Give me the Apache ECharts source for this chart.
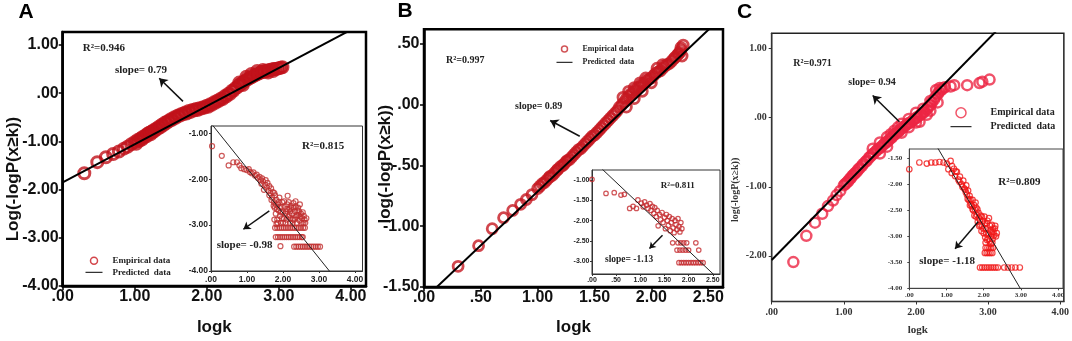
<!DOCTYPE html>
<html>
<head>
<meta charset="utf-8">
<script src="https://cdn.jsdelivr.net/npm/echarts@6/dist/echarts.min.js"></script>
<style>
  html, body { margin: 0; padding: 0; background: #fff; }
  #chart { width: 1072px; height: 341px; }
</style>
</head>
<body>
<div id="chart"></div>
<script>
// ---- data ----
// panel A, main plot (logk, log(-logP(x>=k)))
var empA = [[0.30,-1.66],[0.48,-1.43],[0.60,-1.33],[0.70,-1.26],[0.78,-1.21],[0.85,-1.15],[0.90,-1.11],[0.95,-1.06],
  [1.00,-1.01],[1.04,-0.97],[1.08,-0.94],[1.11,-0.91],[1.15,-0.87],[1.18,-0.84],[1.20,-0.82],[1.23,-0.80],[1.26,-0.77],
  [1.30,-0.73],[1.34,-0.69],[1.38,-0.65],[1.42,-0.61],[1.46,-0.58],[1.50,-0.54],[1.55,-0.50],[1.60,-0.46],[1.65,-0.43],
  [1.70,-0.40],[1.75,-0.37],[1.80,-0.35],[1.85,-0.33],[1.90,-0.31],[1.95,-0.29],[2.00,-0.26],[2.05,-0.23],[2.10,-0.19],
  [2.15,-0.15],[2.20,-0.11],[2.25,-0.06],[2.30,-0.01],[2.35,0.05],[2.40,0.11],[2.45,0.17],[2.50,0.23],[2.55,0.28],
  [2.60,0.32],[2.65,0.36],[2.70,0.40],[2.75,0.43],[2.80,0.45],[2.85,0.47],[2.90,0.49],[2.95,0.50],[3.00,0.52],[3.05,0.54],
  [2.45,0.22],[2.50,0.17],[2.55,0.34],[2.62,0.40],[2.70,0.46],[2.78,0.48],[2.85,0.43],[2.92,0.46],
  [1.02,-1.05],[1.06,-0.99],[1.10,-0.96],[1.13,-0.92],[1.17,-0.89],[1.22,-0.85],[1.25,-0.81],[1.28,-0.78],[1.32,-0.74],
  [1.36,-0.70],[1.40,-0.66],[1.44,-0.62],[1.48,-0.58],[1.52,-0.55],[1.57,-0.51],[1.62,-0.47],[1.67,-0.44],[1.72,-0.42],
  [1.77,-0.39],[1.82,-0.36],[1.87,-0.35],[1.92,-0.32],[1.97,-0.30],[2.02,-0.28],[2.07,-0.24],[2.12,-0.20],[2.17,-0.16],
  [2.22,-0.12],[2.27,-0.07],[2.32,-0.02],[2.37,0.05],[2.42,0.12],[2.47,0.18],[2.52,0.24],[2.57,0.29],[2.62,0.33],
  [2.67,0.37],[2.72,0.41],[2.77,0.44],[2.82,0.46],[2.87,0.48],[2.93,0.50],[2.98,0.51],[3.03,0.53]];
var predA = [[0, -1.85], [4.21, 1.48]];
var arrowA = [[1.67, -0.17], [1.34, 0.31]];

// panel A, inset
var empAi = [[0.03,-1.28],[0.30,-1.49],[0.49,-1.70],[0.62,-1.63],[0.72,-1.63],[0.79,-1.70],[0.84,-1.76],[0.92,-1.78],
  [0.99,-1.80],[1.05,-1.78],[1.08,-1.84],[1.13,-1.87],[1.18,-1.85],[1.22,-1.92],[1.27,-1.90],[1.30,-1.97],[1.35,-1.95],
  [1.38,-2.02],[1.40,-2.10],[1.42,-1.98],[1.45,-2.05],[1.47,-2.23],[1.50,-2.12],[1.52,-2.02],[1.55,-2.18],[1.57,-2.08],
  [1.60,-2.25],[1.62,-2.15],[1.65,-2.30],[1.67,-2.20],[1.70,-2.40],[1.72,-2.28],[1.75,-2.50],[1.77,-2.62],[1.78,-2.35],
  [1.80,-2.75],[1.82,-2.45],[1.84,-2.88],[1.86,-2.55],[1.88,-2.68],[1.90,-2.40],[1.92,-2.80],[1.94,-2.95],[1.96,-2.60],
  [1.98,-2.50],[2.00,-2.72],[2.02,-2.85],[2.05,-2.60],[2.07,-2.95],[2.09,-2.70],[2.12,-2.55],[2.13,-2.36],[2.15,-2.82],
  [2.18,-2.65],[2.20,-2.95],[2.22,-2.58],[2.25,-2.75],[2.28,-2.88],[2.30,-2.62],[2.33,-2.70],[2.36,-2.82],[2.38,-2.95],
  [2.40,-2.68],[2.43,-2.78],[2.46,-2.90],[2.50,-2.75],[2.53,-2.85],[2.57,-2.95],[2.60,-2.88],
  [1.62,-2.35],[1.68,-2.45],[1.74,-2.58],[1.76,-2.30],[1.80,-2.55],[1.83,-2.65],[1.85,-2.95],[1.88,-2.50],[1.91,-2.62],
  [1.95,-2.72],[1.97,-2.85],[2.00,-2.95],[2.03,-2.48],[2.06,-2.75],[2.10,-2.88],[2.12,-2.65],[2.16,-2.50],[2.18,-2.78],
  [2.21,-2.85],[2.24,-2.62],[2.27,-2.95],[2.29,-2.52],[2.32,-2.88],[2.35,-2.60],[2.39,-2.78],[2.42,-2.62],[2.45,-2.70],
  [2.48,-2.82],[2.52,-2.95],[2.55,-2.72],[2.58,-2.80],[2.62,-2.95],[2.65,-2.85],[1.76,-2.88],[1.82,-2.98],[2.20,-2.70],
  [2.35,-2.48],[2.47,-2.55],
  [1.78,-3.06],[1.84,-3.06],[1.90,-3.06],[1.96,-3.06],[2.02,-3.06],[2.08,-3.06],[2.14,-3.06],[2.20,-3.06],[2.26,-3.06],
  [2.32,-3.06],[2.38,-3.06],[2.44,-3.06],[2.50,-3.06],[2.56,-3.06],[2.61,-3.06],
  [1.80,-3.26],[1.86,-3.26],[1.92,-3.26],[1.98,-3.26],[2.04,-3.26],[2.10,-3.26],[2.16,-3.26],[2.22,-3.26],[2.28,-3.26],
  [2.34,-3.26],[2.40,-3.26],[2.46,-3.26],[2.52,-3.26],[2.55,-3.26],
  [2.31,-3.47],[2.37,-3.47],[2.43,-3.47],[2.49,-3.47],[2.55,-3.47],[2.61,-3.47],[2.67,-3.47],[2.73,-3.47],[2.79,-3.47],
  [2.85,-3.47],[2.91,-3.47],[2.97,-3.47],[3.03,-3.47],[1.93,-3.46]];
var predAi = [[0, -0.78], [4.21, -4.9]];
var arrowAi = [[1.62, -2.69], [0.90, -3.09]];

// panel B, main plot
var empB = [[0.30,-1.33],[0.48,-1.16],[0.60,-1.02],[0.70,-0.93],[0.78,-0.87],[0.85,-0.82],[0.90,-0.78],[0.95,-0.74],
  [1.00,-0.69],[1.04,-0.65],[1.08,-0.62],[1.11,-0.59],[1.15,-0.56],[1.18,-0.53],[1.20,-0.51],[1.23,-0.49],[1.26,-0.46],
  [1.30,-0.43],[1.34,-0.39],[1.38,-0.36],[1.42,-0.32],[1.46,-0.28],[1.50,-0.25],[1.54,-0.21],[1.58,-0.17],[1.62,-0.13],
  [1.66,-0.09],[1.70,-0.05],[1.74,0.00],[1.78,0.05],[1.82,0.09],[1.86,0.12],[1.90,0.15],[1.94,0.18],[1.98,0.21],
  [2.02,0.24],[2.06,0.27],[2.10,0.30],[2.14,0.33],[2.18,0.36],[2.21,0.39],[2.24,0.42],[2.26,0.45],[2.28,0.49],
  [1.02,-0.67],[1.06,-0.64],[1.10,-0.60],[1.13,-0.58],[1.17,-0.54],[1.22,-0.50],[1.25,-0.47],[1.28,-0.45],[1.32,-0.41],
  [1.36,-0.37],[1.40,-0.34],[1.44,-0.30],[1.48,-0.26],[1.52,-0.23],[1.56,-0.19],[1.60,-0.15],[1.64,-0.11],[1.68,-0.07],
  [1.72,-0.02],[1.76,0.02],[1.80,0.07],[1.84,0.10],[1.88,0.14],[1.92,0.17],[1.96,0.20],[2.00,0.22],[2.04,0.26],
  [2.08,0.28],[2.12,0.32],[2.16,0.34],[2.20,0.38],[2.23,0.41],[2.25,0.43],[2.27,0.40],[2.26,0.47],
  [1.75,0.06],[1.80,0.11],[1.85,0.14],[1.90,0.18],[1.95,0.22],[1.78,-0.02],[1.85,0.05],[1.92,0.11],[2.00,0.18],
  [2.05,0.30],[2.10,0.33]];
var predB = [[0, -1.60], [2.63, 0.73]];
var arrowB = [[1.37, -0.26], [1.11, -0.13]];

// panel B, inset
var empBi = [[0.00,-0.98],[0.29,-1.33],[0.46,-1.31],[0.60,-1.37],[0.67,-1.35],[0.78,-1.70],[0.85,-1.65],[0.92,-1.70],
  [0.95,-1.49],[1.02,-1.57],[1.06,-1.66],[1.09,-1.54],[1.13,-1.62],[1.16,-1.70],[1.20,-1.58],[1.22,-1.75],[1.25,-1.65],
  [1.28,-1.82],[1.30,-1.68],[1.33,-1.90],[1.35,-1.75],[1.37,-2.13],[1.40,-1.85],[1.42,-1.98],[1.45,-1.80],[1.47,-2.05],
  [1.50,-1.92],[1.52,-2.20],[1.54,-1.85],[1.56,-2.00],[1.58,-2.12],[1.60,-1.90],[1.62,-2.25],[1.64,-2.05],[1.66,-1.95],
  [1.68,-2.18],[1.70,-2.30],[1.72,-2.00],[1.74,-2.10],[1.76,-2.22],[1.78,-1.95],[1.80,-2.15],[1.82,-2.28],[1.84,-2.05],
  [1.86,-2.20],[1.67,-2.55],
  [1.78,-2.55],[1.84,-2.55],[1.90,-2.55],[1.96,-2.55],[2.15,-2.55],
  [1.76,-2.73],[1.82,-2.73],[1.88,-2.73],[1.94,-2.73],[2.00,-2.73],[2.21,-2.73],
  [1.80,-3.04],[1.85,-3.04],[1.90,-3.04],[1.95,-3.04],[2.00,-3.04],[2.05,-3.04],[2.10,-3.04],[2.15,-3.04],[2.20,-3.04],
  [2.25,-3.04],[2.30,-3.04]];
var predBi = [[0, -0.49], [2.65, -3.48]];
var arrowBi = [[1.46, -2.36], [1.19, -2.69]];

// panel C, main plot
var empC = [[0.30,-2.09],[0.48,-1.71],[0.60,-1.52],[0.70,-1.39],[0.78,-1.28],[0.85,-1.20],[0.90,-1.12],[0.95,-1.06],
  [1.00,-0.98],[1.04,-0.94],[1.08,-0.89],[1.12,-0.84],[1.16,-0.80],[1.20,-0.75],[1.25,-0.70],[1.30,-0.64],[1.35,-0.58],
  [1.40,-0.53],[1.45,-0.48],[1.50,-0.44],[1.55,-0.39],[1.60,-0.35],[1.65,-0.30],[1.70,-0.25],[1.75,-0.21],[1.80,-0.16],
  [1.85,-0.12],[1.90,-0.08],[1.95,-0.05],[2.00,-0.01],[2.05,0.03],[2.10,0.07],[2.15,0.12],[2.20,0.18],[2.25,0.26],
  [2.30,0.34],[2.35,0.40],[2.40,0.44],[2.48,0.45],[2.53,0.47],[2.71,0.47],[2.88,0.50],[2.92,0.52],[3.02,0.55],
  [1.02,-0.96],[1.06,-0.92],[1.10,-0.87],[1.14,-0.82],[1.18,-0.78],[1.22,-0.73],[1.27,-0.67],[1.32,-0.62],[1.37,-0.56],
  [1.42,-0.51],[1.47,-0.46],[1.52,-0.42],[1.57,-0.37],[1.62,-0.33],[1.67,-0.28],[1.72,-0.23],[1.77,-0.19],[1.82,-0.14],
  [1.87,-0.10],[1.92,-0.07],[1.97,-0.03],[2.02,0.01],[2.07,0.05],[2.12,0.09],[2.17,0.15],[2.22,0.22],[2.27,0.30],
  [2.32,0.37],[2.37,0.42],[2.28,0.40],[2.33,0.43],
  [1.40,-0.45],[1.50,-0.52],[1.65,-0.24],[1.75,-0.14],[1.90,-0.14],[2.05,-0.06],[2.20,0.10],[2.30,0.22],
  [1.50,-0.36],[1.60,-0.28],[1.70,-0.19],[1.80,-0.09],[1.90,-0.02],[2.00,0.07],[2.10,0.13],[2.20,0.24],
  [1.60,-0.42],[1.80,-0.22],[2.00,-0.07],[2.15,0.04]];
var predC = [[0, -2.06], [4.05, 2.25]];
var arrowC = [[1.77, -0.06], [1.40, 0.32]];

// panel C, inset
var empCi = [[0.00,-1.71],[0.27,-1.58],[0.47,-1.60],[0.59,-1.58],[0.70,-1.58],[0.81,-1.57],[0.92,-1.58],[1.01,-1.60],
  [1.11,-1.55],[1.05,-1.71],[1.14,-1.78],[1.20,-1.70],[1.23,-1.84],[1.28,-1.76],[1.32,-1.91],[1.36,-1.85],[1.41,-2.00],
  [1.45,-1.93],[1.48,-2.08],[1.50,-2.10],[1.53,-2.02],[1.55,-2.20],[1.58,-2.12],[1.60,-2.30],[1.62,-2.22],[1.64,-2.29],
  [1.66,-2.38],[1.68,-2.42],[1.70,-2.30],[1.72,-2.50],[1.74,-2.40],[1.77,-2.49],[1.79,-2.62],[1.80,-2.45],[1.82,-2.59],
  [1.84,-2.72],[1.86,-2.55],[1.88,-2.80],[1.90,-2.68],[1.92,-2.60],[1.94,-2.90],[1.96,-2.81],[1.98,-2.70],[2.00,-2.94],
  [2.02,-2.62],[2.04,-3.02],[2.06,-2.85],[2.08,-2.75],[2.09,-3.07],[2.12,-2.95],[2.14,-2.65],[2.16,-3.10],[2.18,-2.88],
  [2.20,-3.00],[2.22,-2.78],[2.24,-3.05],[2.26,-2.92],[2.30,-2.85],[2.33,-3.00],[2.35,-2.94],
  [1.15,-1.65],[1.25,-1.75],[1.35,-1.95],[1.43,-2.05],[1.52,-2.15],[1.57,-2.28],[1.63,-2.40],[1.70,-2.48],[1.75,-2.60],
  [1.78,-2.35],[1.83,-2.48],[1.87,-2.65],[1.91,-2.78],[1.95,-2.62],[1.99,-2.85],[2.03,-2.75],[2.07,-2.95],[2.10,-2.70],
  [2.13,-3.05],[2.17,-2.80],[2.21,-2.92],[2.25,-2.85],[2.28,-2.98],[2.31,-2.80],[2.05,-3.12],[2.19,-3.15],[2.23,-3.12],
  [2.05,-3.22],[2.10,-3.22],[2.15,-3.22],[2.20,-3.22],[2.25,-3.22],
  [2.03,-3.32],[2.08,-3.32],[2.13,-3.32],[2.18,-3.32],[2.23,-3.32],
  [1.90,-3.60],[1.96,-3.60],[2.02,-3.60],[2.08,-3.60],[2.14,-3.60],[2.20,-3.60],[2.26,-3.60],[2.32,-3.60],[2.38,-3.60],
  [2.55,-3.60],[2.65,-3.60],[2.75,-3.60],[2.85,-3.60],[2.97,-3.60]];
var predCi = [[0, -0.37], [4.13, -5.4]];
var arrowCi = [[1.85, -2.72], [1.23, -3.24]];

// tick values
var ticksX4 = [0, 1, 2, 3, 4];
var ticksXB = [0, 0.5, 1, 1.5, 2, 2.5];
var ticksYA = [-4, -3, -2, -1, 0, 1];
var ticksYAi = [-4, -3, -2, -1];
var ticksYB = [-1.5, -1, -0.5, 0, 0.5];
var ticksYBi = [-3, -2.5, -2, -1.5, -1];
var ticksYC = [-2, -1, 0, 1];
var ticksYCi = [-4, -3.5, -3, -2.5, -2, -1.5];

// ---- chart ----
var sans = 'Liberation Sans', serif = 'Liberation Serif';

function fmt(v) {
  return v.toFixed(2).replace(/^(-?)0\./, '$1.');
}

function axis(grid, min, max, ticks, o) {
  return {
    type: 'value', gridIndex: grid, min: min, max: max,
    name: o.name || '', nameLocation: 'middle', nameGap: o.nameGap || 0, nameMoveOverlap: false,
    nameTextStyle: { fontFamily: o.font, fontWeight: 'bold', fontSize: o.nameSize || 10, color: o.color, padding: o.namePad || 0 },
    axisLine: { onZero: false, lineStyle: { color: o.line, width: o.lw } },
    axisTick: { customValues: ticks, length: o.tick, lineStyle: { color: o.line, width: o.tw } },
    axisLabel: { customValues: ticks, formatter: fmt, margin: o.margin, fontFamily: o.font,
      fontWeight: 'bold', fontSize: o.size, color: o.color, hideOverlap: false },
    splitLine: { show: false }
  };
}

function scatter(name, idx, data, color, size, bw) {
  return {
    type: 'scatter', name: name, xAxisIndex: idx, yAxisIndex: idx, data: data,
    symbol: 'circle', symbolSize: size, silent: true, z: 2,
    itemStyle: { color: 'rgba(0,0,0,0)', borderColor: color, borderWidth: bw }
  };
}

function fitLine(name, idx, data, arrow, color, width, arrowSize) {
  return {
    type: 'line', name: name, xAxisIndex: idx, yAxisIndex: idx, data: data,
    symbol: 'none', silent: true, z: 3,
    lineStyle: { color: color, width: width },
    markLine: {
      silent: true, symbol: ['none', 'arrow'], symbolSize: arrowSize,
      lineStyle: { color: '#111', width: 1.5, type: 'solid' },
      label: { show: false },
      data: [[{ coord: arrow[0] }, { coord: arrow[1] }]]
    }
  };
}

function note(text, x, y, size, o) {
  o = o || {};
  return {
    type: 'text', x: x, y: y, silent: true, z: 10,
    style: { text: text, fill: o.fill || '#222', align: o.align || 'left', verticalAlign: 'middle',
      font: 'bold ' + size + 'px "' + (o.family || serif) + '"' }
  };
}

function legend(suffix, left, top, w, h, gap, size, lh, pad, color) {
  return {
    orient: 'vertical', left: left, top: top, padding: 0, itemWidth: w, itemHeight: h, itemGap: gap,
    selectedMode: false,
    formatter: function (n) { return n.replace(/ [A-C]$/, ''); },
    textStyle: { fontFamily: serif, fontWeight: 'bold', fontSize: size, lineHeight: lh, color: '#222', padding: [0, 0, 0, pad] },
    data: [
      { name: 'Empirical data ' + suffix, itemStyle: { color: 'rgba(0,0,0,0)', borderColor: color, borderWidth: 1.5 } },
      { name: 'Predicted  data ' + suffix, lineStyle: { color: '#000', width: 1 },
        itemStyle: { color: 'rgba(0,0,0,0)', borderColor: 'rgba(0,0,0,0)', borderWidth: 0, opacity: 0 } }
    ]
  };
}

var mainAB = { font: sans, size: 16, color: '#111', line: '#000', lw: 2.5, tick: 4, tw: 1.5 };
function ext(a, b) { var r = {}; for (var k in a) r[k] = a[k]; for (k in b) r[k] = b[k]; return r; }

var insA = { font: sans, size: 8.5, color: '#222', line: '#333', lw: 1, tick: 2, tw: 1 };
var insB = { font: sans, size: 7, color: '#222', line: '#333', lw: 1, tick: 2, tw: 1 };
var mainC = { font: serif, size: 10, color: '#333', line: '#333', lw: 1.2, tick: 3, tw: 1 };
var insC = { font: serif, size: 7, color: '#333', line: '#444', lw: 1, tick: 2, tw: 1 };

var option = {
  animation: false,
  backgroundColor: '#fff',
  grid: [
    { left: 62.7, top: 32, width: 303.3, height: 255, show: true, borderColor: '#000', borderWidth: 2.5, backgroundColor: 'rgba(0,0,0,0)' },
    { left: 211, top: 126, width: 151.5, height: 145, show: true, borderColor: '#333', borderWidth: 1, backgroundColor: '#fff' },
    { left: 424, top: 29.3, width: 299, height: 259.2, show: true, borderColor: '#000', borderWidth: 2.5, backgroundColor: 'rgba(0,0,0,0)' },
    { left: 592, top: 170, width: 128, height: 104, show: true, borderColor: '#333', borderWidth: 1, backgroundColor: '#fff' },
    { left: 771.7, top: 33.3, width: 293.3, height: 268.4, show: true, borderColor: '#222', borderWidth: 1.5, backgroundColor: 'rgba(0,0,0,0)' },
    { left: 909.3, top: 149, width: 153.7, height: 139.3, show: true, borderColor: '#444', borderWidth: 1, backgroundColor: '#fff' }
  ],
  xAxis: [
    axis(0, 0, 4.21, ticksX4, ext(mainAB, { margin: 3, name: 'logk', nameSize: 17, nameGap: 33 })),
    axis(1, 0, 4.21, ticksX4, ext(insA, { margin: 4 })),
    axis(2, 0, 2.63, ticksXB, ext(mainAB, { margin: 3, name: 'logk', nameSize: 17, nameGap: 32 })),
    axis(3, 0, 2.65, ticksXB, ext(insB, { margin: 3 })),
    axis(4, 0, 4.05, ticksX4, ext(mainC, { margin: 6, name: 'logk', nameSize: 11, nameGap: 23.5 })),
    axis(5, 0, 4.13, ticksX4, ext(insC, { margin: 3 }))
  ],
  yAxis: [
    axis(0, -4, 1.27, ticksYA, ext(mainAB, { margin: 4, name: 'Log(-logP(x\u2265k))', nameSize: 17, nameGap: 41, namePad: [0, 40, 0, 0] })),
    axis(1, -4, -0.84, ticksYAi, ext(insA, { margin: 3 })),
    axis(2, -1.5, 0.62, ticksYB, ext(mainAB, { margin: 4.5, name: 'log(-logP(x\u2265k))', nameSize: 17, nameGap: 30.5, namePad: [0, 12, 0, 0] })),
    axis(3, -3.32, -0.75, ticksYBi, ext(insB, { margin: 2.5 })),
    axis(4, -2.66, 1.22, ticksYC, ext(mainC, { margin: 5, name: 'log(-logP(x\u2265k))', nameSize: 10, nameGap: 31, namePad: [0, 45, 0, 0] })),
    axis(5, -4.0, -1.32, ticksYCi, ext(insC, { margin: 7 }))
  ],
  legend: [
    legend('A', 85, 255.7, 17, 7, 1.6, 9, 10, 5, '#c8161d'),
    legend('B', 556, 44.5, 16, 6, 4.3, 8, 9, 5, '#c62a2e'),
    legend('C', 950, 106.7, 21, 10, 2, 10, 12, 14, '#ee2a44')
  ],
  series: [
    scatter('Empirical data A', 0, empA, '#c0121a', 11, 3),
    fitLine('Predicted  data A', 0, predA, arrowA, '#000', 2, 8),
    scatter('inset A', 1, empAi, '#c0302f', 5, 1.2),
    fitLine('inset fit A', 1, predAi, arrowAi, '#222', 1, 7),
    scatter('Empirical data B', 2, empB, '#c61820', 10, 2.8),
    fitLine('Predicted  data B', 2, predB, arrowB, '#000', 2, 8),
    scatter('inset B', 3, empBi, '#c42b2e', 4.5, 1.2),
    fitLine('inset fit B', 3, predBi, arrowBi, '#222', 1, 6),
    scatter('Empirical data C', 4, empC, '#ec2644', 10, 2.5),
    fitLine('Predicted  data C', 4, predC, arrowC, '#000', 2, 8),
    scatter('inset C', 5, empCi, '#f01818', 5.5, 1.2),
    fitLine('inset fit C', 5, predCi, arrowCi, '#222', 1, 7)
  ],
  graphic: [
    note('A', 26, 12.5, 21, { family: sans, align: 'center', fill: '#000' }),
    note('R\u00b2=0.946', 82.7, 48.3, 11),
    note('slope= 0.79', 115, 70, 11),
    note('R\u00b2=0.815', 302, 146, 11),
    note('slope= -0.98', 216.7, 245.5, 11),
    note('B', 405, 11, 21, { family: sans, align: 'center', fill: '#000' }),
    note('R\u00b2=0.997', 446, 60.7, 10),
    note('slope= 0.89', 515, 106.7, 10),
    note('R\u00b2=0.811', 660.7, 186, 9),
    note('slope= -1.13', 605, 260, 9.5),
    note('C', 744.5, 12, 21, { family: sans, align: 'center', fill: '#000' }),
    note('R\u00b2=0.971', 793.3, 63.3, 10),
    note('slope= 0.94', 848.3, 82.7, 10),
    note('R\u00b2=0.809', 998.3, 181.7, 11),
    note('slope= -1.18', 919.3, 261, 11)
  ]
};

var chart = echarts.init(document.getElementById('chart'), null, { renderer: 'canvas' });
chart.setOption(option);
window.onresize = function () { chart.resize(); };
</script>
</body>
</html>
